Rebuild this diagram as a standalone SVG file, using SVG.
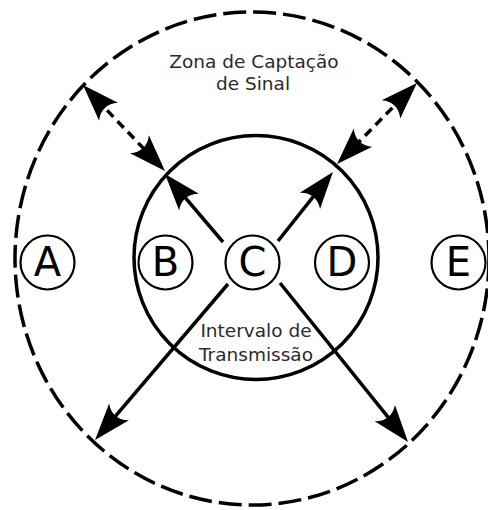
<svg xmlns="http://www.w3.org/2000/svg" width="488" height="510" viewBox="0 0 488 510">
  <style>
    .zone { fill: none; stroke: #000; stroke-width: 3.5; stroke-dasharray: 23 7; }
    .range { fill: none; stroke: #000; stroke-width: 3.5; }
    .node circle { fill: #fff; stroke: #000; stroke-width: 2.2; }
    .node text { font-family: "DejaVu Sans", sans-serif; font-size: 40px; fill: #000; text-anchor: middle; }
    .label { font-family: "DejaVu Sans", sans-serif; font-size: 18.5px; fill: #2a2a2a; text-anchor: middle; }
    .conn { stroke: #000; stroke-width: 3.5; fill: none; }
    .dash { stroke-dasharray: 9 6; }
  </style>
  <defs>
    <marker id="head" viewBox="-20 -15 45 30" markerWidth="45" markerHeight="30" refX="0" refY="0" orient="auto-start-reverse" markerUnits="userSpaceOnUse" overflow="visible">
      <path d="M20,0 L-17,-13 C-10,-5 -10,5 -17,13 Z" fill="#000"/>
    </marker>
  </defs>

  <g id="zone">
    <ellipse class="zone" cx="252" cy="258.5" rx="237" ry="246.5"/>
  </g>
  <g id="range">
    <circle class="range" cx="256" cy="257.5" r="122"/>
  </g>

  <g id="labels">
    <text class="label" x="254" y="68">Zona de Captação</text>
    <text class="label" x="253" y="90">de Sinal</text>
    <text class="label" x="256" y="337">Intervalo de</text>
    <text class="label" x="256" y="361">Transmissão</text>
  </g>

  <g id="connectors">
    <line class="conn" x1="223" y1="242" x2="178" y2="189.2" marker-end="url(#head)"/>
    <line class="conn" x1="278" y1="241" x2="320.5" y2="187.6" marker-end="url(#head)"/>
    <line class="conn" x1="228" y1="284" x2="108" y2="424.8" marker-end="url(#head)"/>
    <line class="conn" x1="280" y1="283" x2="395.5" y2="426.4" marker-end="url(#head)"/>
    <line class="conn dash" x1="96.8" y1="99.5" x2="151.2" y2="156.5" marker-start="url(#head)" marker-end="url(#head)"/>
    <line class="conn dash" x1="402.9" y1="97.2" x2="351.1" y2="149.8" marker-start="url(#head)" marker-end="url(#head)"/>
  </g>

  <g id="A" class="node">
    <circle cx="47.5" cy="262.5" r="27"/>
    <text x="47.5" y="275.5">A</text>
  </g>
  <g id="B" class="node">
    <circle cx="165.5" cy="262.5" r="27"/>
    <text x="165.5" y="275.5">B</text>
  </g>
  <g id="C" class="node">
    <circle cx="252.5" cy="262.5" r="27"/>
    <text x="252.5" y="275.5">C</text>
  </g>
  <g id="D" class="node">
    <circle cx="342" cy="262.5" r="27"/>
    <text x="342" y="275.5">D</text>
  </g>
  <g id="E" class="node">
    <circle cx="458.5" cy="262.5" r="27"/>
    <text x="458.5" y="275.5">E</text>
  </g>
</svg>
